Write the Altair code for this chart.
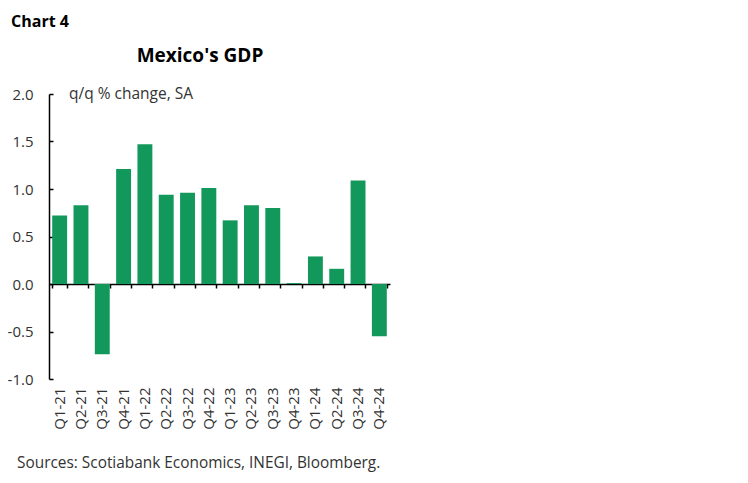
import altair as alt
import pandas as pd

quarters = ["Q1-21", "Q2-21", "Q3-21", "Q4-21", "Q1-22", "Q2-22", "Q3-22", "Q4-22",
            "Q1-23", "Q2-23", "Q3-23", "Q4-23", "Q1-24", "Q2-24", "Q3-24", "Q4-24"]
gdp_qq = [0.72, 0.83, -0.74, 1.21, 1.47, 0.94, 0.96, 1.01,
          0.67, 0.83, 0.80, 0.01, 0.29, 0.16, 1.09, -0.55]
y_ticks = [-1.0, -0.5, 0.0, 0.5, 1.0, 1.5, 2.0]

df = pd.DataFrame({"q": quarters, "v": gdp_qq})

W, H = 341, 285
FONT = "Open Sans"
GREEN = "#13985C"
TXT = "#333333"

yscale = alt.Scale(domain=[-1, 2], nice=False)
ylab = "datum.value < 0 ? '-' + format(-datum.value, '.1f') : format(datum.value, '.1f')"

bars = alt.Chart(df).mark_bar(color=GREEN).encode(
    x=alt.X("q:N", sort=quarters, title=None,
            scale=alt.Scale(paddingInner=0.3, paddingOuter=0.15),
            axis=alt.Axis(orient="bottom", domain=False, ticks=False, labelAngle=270,
                          labelAlign="right", labelBaseline="middle", labelPadding=8,
                          labelFontSize=15, labelColor=TXT, labelFont=FONT)),
    y=alt.Y("v:Q", scale=yscale, title=None,
            axis=alt.Axis(orient="left", values=y_ticks, labelExpr=ylab, grid=False,
                          ticks=False, domainColor="#000000", domainWidth=1.5,
                          labelPadding=16, labelFontSize=15, labelColor=TXT, labelFont=FONT)),
)

# zero axis line with ticks between categories, and inward y ticks
ghost = alt.Chart(df).mark_bar(opacity=0).encode(
    x=alt.X("q:N", sort=quarters, title=None,
            axis=alt.Axis(orient="bottom", offset=-(H // 3), labels=False, domain=True,
                          domainColor="#000000", domainWidth=1.5, ticks=True,
                          tickBand="extent", tickSize=4, tickColor="#000000", tickWidth=1.5)),
    y=alt.Y("v:Q", scale=yscale, title=None,
            axis=alt.Axis(orient="right", offset=-W, values=y_ticks, labels=False,
                          domain=False, grid=False, ticks=True, tickSize=4,
                          tickColor="#000000", tickWidth=1.5)),
)

chart4 = alt.Chart(pd.DataFrame({"t": ["Chart 4"]})).mark_text(
    align="left", baseline="alphabetic", fontSize=16, fontWeight="bold", font=FONT,
    color="#000000").encode(text="t:N", x=alt.value(-38), y=alt.value(-67))
title = alt.Chart(pd.DataFrame({"t": ["Mexico's GDP"]})).mark_text(
    align="center", baseline="alphabetic", fontSize=19, fontWeight="bold", font=FONT,
    color="#000000").encode(text="t:N", x=alt.value(151), y=alt.value(-32))
unit = alt.Chart(pd.DataFrame({"t": ["q/q % change, SA"]})).mark_text(
    align="left", baseline="alphabetic", fontSize=15.5, font=FONT, color=TXT).encode(
    text="t:N", x=alt.value(20), y=alt.value(5))
src = alt.Chart(pd.DataFrame({"t": ["Sources: Scotiabank Economics, INEGI, Bloomberg."]})).mark_text(
    align="left", baseline="alphabetic", fontSize=15.4, font=FONT, color=TXT).encode(
    text="t:N", x=alt.value(-32), y=alt.value(374))

chart = alt.layer(bars, ghost, chart4, title, unit, src).resolve_axis(
    x="independent", y="independent"
).properties(
    width=W, height=H,
    autosize=alt.AutoSizeParams(type="none"),
    padding={"left": 41, "top": 86, "right": 350, "bottom": 96},
).configure(background="white").configure_view(stroke=None)

chart.save("out.html", embed_options={"renderer": "svg", "actions": False})
